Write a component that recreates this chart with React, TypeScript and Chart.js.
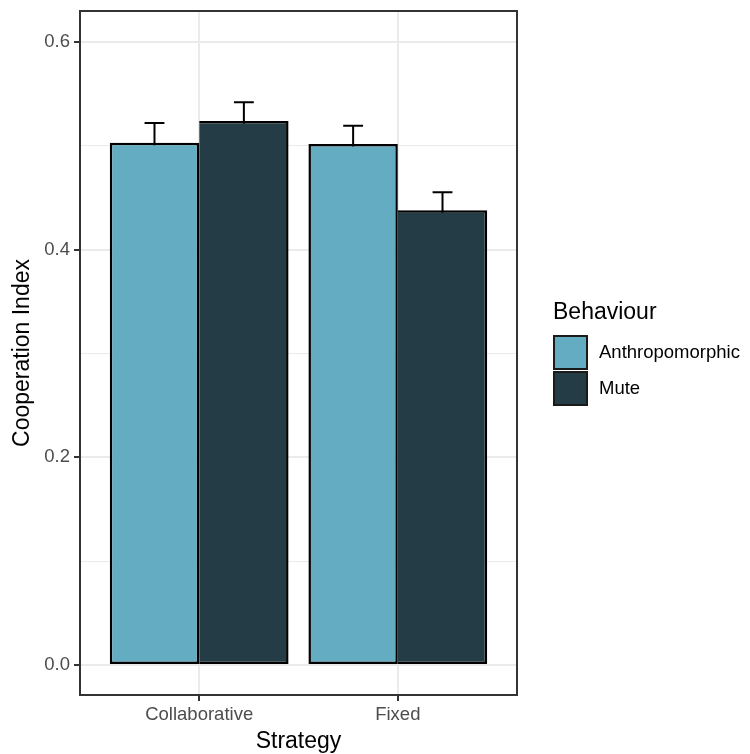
import React, { useEffect, useRef } from "react";
import { Chart, registerables } from "chart.js";

Chart.register(...registerables);

// Strategy categories on the x axis
const strategies = ["Collaborative", "Fixed"];

// Behaviour groups (legend)
const behaviours = ["Anthropomorphic", "Mute"];

// Mean cooperation index per strategy
const anthropomorphicMean = [0.503, 0.502];
const muteMean = [0.524, 0.438];

// Standard errors per strategy
const anthropomorphicSe = [0.019, 0.0175];
const muteSe = [0.018, 0.0175];

// Y axis ticks (major labelled, minor unlabelled)
const yTickValues = [0, 0.1, 0.2, 0.3, 0.4, 0.5, 0.6];
const yTickLabels = ["0.0", "", "0.2", "", "0.4", "", "0.6"];

const fillColors = ["#64ACC2", "#243C45"];
const FONT = "'Liberation Sans', Arial, Helvetica, sans-serif";

const errorBars = {
  id: "errorBars",
  beforeDatasetsDraw(chart: any) {
    const { ctx, scales } = chart;
    const ses = [anthropomorphicSe, muteSe];
    const means = [anthropomorphicMean, muteMean];
    const half = Math.abs(scales.x.getPixelForValue(0.05) - scales.x.getPixelForValue(0));
    ctx.save();
    ctx.strokeStyle = "#000000";
    ctx.lineWidth = 2;
    chart.data.datasets.forEach((_: any, di: number) => {
      const meta = chart.getDatasetMeta(di);
      meta.data.forEach((bar: any, j: number) => {
        const yt = scales.y.getPixelForValue(means[di][j] + ses[di][j]);
        const yb = scales.y.getPixelForValue(means[di][j] - ses[di][j]);
        ctx.beginPath();
        ctx.moveTo(bar.x, yt);
        ctx.lineTo(bar.x, yb);
        ctx.moveTo(bar.x - half, yt);
        ctx.lineTo(bar.x + half, yt);
        ctx.moveTo(bar.x - half, yb);
        ctx.lineTo(bar.x + half, yb);
        ctx.stroke();
      });
    });
    ctx.restore();
  },
};

const panelFrame = {
  id: "panelFrame",
  afterDraw(chart: any) {
    const { ctx, chartArea: a } = chart;
    ctx.save();
    ctx.strokeStyle = "#333333";
    ctx.lineWidth = 2;
    ctx.strokeRect(a.left, a.top, a.right - a.left, a.bottom - a.top);
    ctx.restore();
  },
};

const sideLegend = {
  id: "sideLegend",
  afterDraw(chart: any) {
    const { ctx } = chart;
    const x0 = 553;
    ctx.save();
    ctx.fillStyle = "#000000";
    ctx.textBaseline = "middle";
    ctx.textAlign = "left";
    ctx.font = `23px ${FONT}`;
    ctx.fillText("Behaviour", x0, 313);
    const keyW = 35;
    const keyH = 35;
    const top0 = 335;
    behaviours.forEach((name, i) => {
      const ky = top0 + i * 36;
      ctx.fillStyle = fillColors[i];
      ctx.fillRect(x0, ky, keyW, keyH);
      ctx.strokeStyle = "#1a1a1a";
      ctx.lineWidth = 2;
      ctx.strokeRect(x0 + 1, ky + 1, keyW - 2, keyH - 2);
      ctx.fillStyle = "#000000";
      ctx.font = `18.5px ${FONT}`;
      ctx.fillText(name, 599, ky + keyH / 2);
    });
    ctx.restore();
  },
};

export default function App() {
  const canvasRef = useRef<HTMLCanvasElement | null>(null);

  useEffect(() => {
    if (!canvasRef.current) return;
    const chart = new Chart(canvasRef.current, {
      type: "bar",
      data: {
        datasets: [
          {
            label: behaviours[0],
            data: strategies.map((_, i) => ({ x: i + 1, y: anthropomorphicMean[i] })),
            backgroundColor: fillColors[0],
            borderColor: "#000000",
            borderWidth: 2.5,
            borderSkipped: false,
            categoryPercentage: 0.9,
            barPercentage: 1.0,
          },
          {
            label: behaviours[1],
            data: strategies.map((_, i) => ({ x: i + 1, y: muteMean[i] })),
            backgroundColor: fillColors[1],
            borderColor: "#000000",
            // the left edge is shared with the neighbouring bar's border
            borderWidth: { top: 2.5, right: 2.5, bottom: 2.5, left: 0 },
            borderSkipped: false,
            categoryPercentage: 0.9,
            barPercentage: 1.0,
          },
        ],
      },
      options: {
        responsive: false,
        animation: false,
        devicePixelRatio: 1,
        layout: { padding: { top: 11, right: 233, left: 0, bottom: 0 } },
        plugins: { legend: { display: false }, tooltip: { enabled: false } },
        scales: {
          x: {
            type: "linear",
            min: 0.4,
            max: 2.6,
            offset: false,
            afterBuildTicks: (scale: any) => {
              scale.ticks = strategies.map((_, i) => ({ value: i + 1 }));
            },
            afterFit: (scale: any) => {
              scale.height = 59;
              scale.paddingLeft = 0;
              scale.paddingRight = 0;
            },
            ticks: {
              callback: (_v: any, i: number) => strategies[i],
              color: "#4D4D4D",
              font: { family: FONT, size: 18.5 },
              padding: 3,
              maxRotation: 0,
              autoSkip: false,
            },
            grid: {
              offset: false,
              color: "#EBEBEB",
              lineWidth: 2,
              tickColor: "#333333",
              tickLength: 6,
              tickWidth: 2,
            },
            border: { display: false },
            title: {
              display: true,
              text: "Strategy",
              color: "#000000",
              font: { family: FONT, size: 23, lineHeight: 1 },
              padding: { top: 0, bottom: 1 },
            },
          },
          y: {
            type: "linear",
            min: -0.0289,
            max: 0.63,
            afterBuildTicks: (scale: any) => {
              scale.ticks = yTickValues.map((v) => ({ value: v }));
            },
            afterFit: (scale: any) => {
              scale.width = 80;
              scale.paddingTop = 0;
              scale.paddingBottom = 0;
            },
            ticks: {
              callback: (_v: any, i: number) => yTickLabels[i],
              color: "#4D4D4D",
              font: { family: FONT, size: 18.5 },
              padding: 4,
            },
            grid: {
              color: "#EBEBEB",
              lineWidth: (ctx: any) => (yTickLabels[ctx.index] ? 2 : 1),
              tickColor: (ctx: any) => (yTickLabels[ctx.index] ? "#333333" : "rgba(0,0,0,0)"),
              tickLength: 6,
              tickWidth: 2,
            },
            border: { display: false },
            title: {
              display: true,
              text: "Cooperation Index",
              color: "#000000",
              font: { family: FONT, size: 23, lineHeight: 1 },
              padding: { top: 11, bottom: 0 },
            },
          },
        },
      },
      plugins: [errorBars, panelFrame, sideLegend],
    } as any);
    return () => chart.destroy();
  }, []);

  return (
    <div style={{ position: "absolute", left: 0, top: 0, width: 750, height: 754, background: "#ffffff" }}>
      <canvas ref={canvasRef} width={750} height={754} />
    </div>
  );
}
